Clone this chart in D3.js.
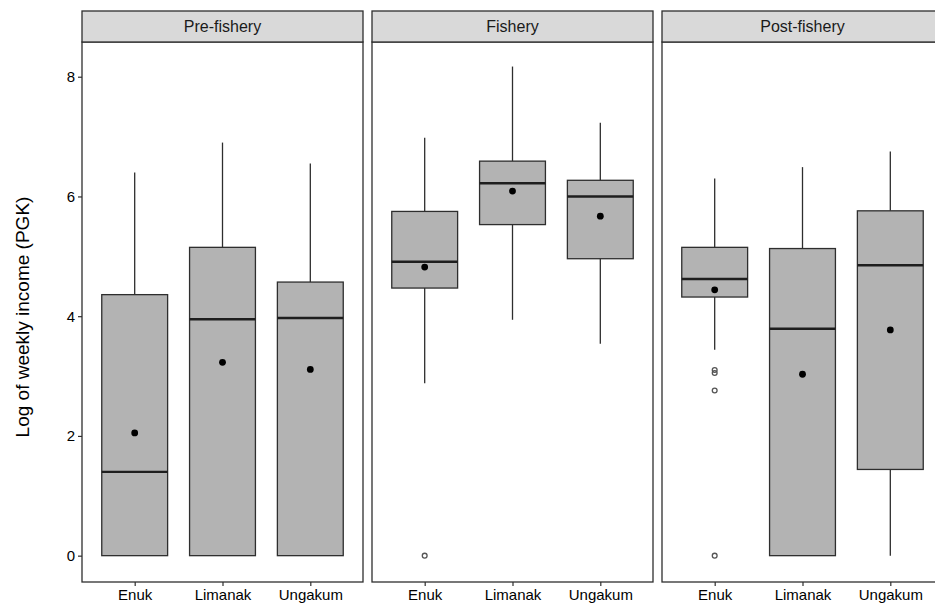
<!DOCTYPE html>
<html>
<head>
<meta charset="utf-8">
<script src="https://cdnjs.cloudflare.com/ajax/libs/d3/7.8.5/d3.min.js"></script>
<style>
  body { margin: 0; background: #fff; }
  svg { display: block; font-family: "Liberation Sans", Arial, sans-serif; }
</style>
</head>
<body>
<svg id="chart" width="935" height="608"></svg>
<script>
// facet panels and villages
const periods = ["Pre-fishery", "Fishery", "Post-fishery"];
const villages = ["Enuk", "Limanak", "Ungakum"];

// box stats, one row per period, one value per village
const whiskerLow = [[0, 0, 0], [2.88, 3.94, 3.54], [3.44, 0, 0]];
const q1 = [[0, 0, 0], [4.47, 5.53, 4.96], [4.32, 0, 1.44]];
const medians = [[1.40, 3.95, 3.97], [4.91, 6.22, 6.00], [4.62, 3.79, 4.85]];
const q3 = [[4.36, 5.15, 4.57], [5.75, 6.59, 6.27], [5.15, 5.13, 5.76]];
const whiskerHigh = [[6.40, 6.90, 6.55], [6.98, 8.17, 7.23], [6.30, 6.49, 6.75]];
const means = [[2.05, 3.23, 3.11], [4.82, 6.09, 5.67], [4.44, 3.03, 3.77]];
const outliers = [[[], [], []], [[0], [], []], [[3.10, 3.05, 2.76, 0], [], []]];

const yTicks = [0, 2, 4, 6, 8];

const svg = d3.select("#chart");
const margin = { top: 42, left: 82, bottom: 26 };
const panelW = 281, gap = 9, stripH = 31;
const height = 608 - margin.top - margin.bottom;

const y = d3.scaleLinear().domain([-0.44, 8.58]).range([height, 0]);
const x = d3.scalePoint().domain(villages).range([0, panelW]).padding(0.6);
const boxW = x.step() * 0.75;
const ink = "#2e2e2e";

// y axis title
svg.append("text")
    .attr("transform", `translate(29,317) rotate(-90)`)
    .attr("text-anchor", "middle")
    .attr("font-size", 19)
    .attr("fill", "#000")
    .text("Log of weekly income (PGK)");

periods.forEach((p, pi) => {
    const px = margin.left + pi * (panelW + gap);
    const g = svg.append("g").attr("transform", `translate(${px},${margin.top})`);

    // strip
    svg.append("rect")
        .attr("x", px).attr("y", margin.top - stripH)
        .attr("width", panelW).attr("height", stripH)
        .attr("fill", "#d9d9d9").attr("stroke", ink).attr("stroke-width", 1.3);
    svg.append("text")
        .attr("x", px + panelW / 2).attr("y", margin.top - stripH / 2)
        .attr("dy", "0.36em")
        .attr("text-anchor", "middle")
        .attr("font-size", 16)
        .attr("fill", "#1a1a1a")
        .text(p);

    const rows = villages.map((v, i) => ({
        v, lo: whiskerLow[pi][i], q1: q1[pi][i], med: medians[pi][i],
        q3: q3[pi][i], hi: whiskerHigh[pi][i], mean: means[pi][i], out: outliers[pi][i]
    }));

    // whiskers
    g.selectAll(".wh-up").data(rows).enter().append("line")
        .attr("x1", d => x(d.v)).attr("x2", d => x(d.v))
        .attr("y1", d => y(d.q3)).attr("y2", d => y(d.hi))
        .attr("stroke", ink).attr("stroke-width", 1.3);
    g.selectAll(".wh-lo").data(rows).enter().append("line")
        .attr("x1", d => x(d.v)).attr("x2", d => x(d.v))
        .attr("y1", d => y(d.q1)).attr("y2", d => y(d.lo))
        .attr("stroke", ink).attr("stroke-width", 1.3);

    // boxes
    g.selectAll(".box").data(rows).enter().append("rect")
        .attr("x", d => x(d.v) - boxW / 2)
        .attr("y", d => y(d.q3))
        .attr("width", boxW)
        .attr("height", d => y(d.q1) - y(d.q3))
        .attr("fill", "#b3b3b3").attr("stroke", ink).attr("stroke-width", 1.3);

    // medians
    g.selectAll(".med").data(rows).enter().append("line")
        .attr("x1", d => x(d.v) - boxW / 2).attr("x2", d => x(d.v) + boxW / 2)
        .attr("y1", d => y(d.med)).attr("y2", d => y(d.med))
        .attr("stroke", "#1e1e1e").attr("stroke-width", 2.4);

    // outliers
    rows.forEach(d => {
        g.selectAll(null).data(d.out).enter().append("circle")
            .attr("cx", x(d.v)).attr("cy", o => y(o))
            .attr("r", 2.4)
            .attr("fill", "none").attr("stroke", "#555").attr("stroke-width", 1.3);
    });

    // means
    g.selectAll(".mean").data(rows).enter().append("circle")
        .attr("cx", d => x(d.v)).attr("cy", d => y(d.mean))
        .attr("r", 3.4).attr("fill", "#000");

    // panel border
    g.append("rect")
        .attr("width", panelW).attr("height", height)
        .attr("fill", "none").attr("stroke", ink).attr("stroke-width", 1.3);

    // x axis
    const xa = g.append("g").attr("transform", `translate(0,${height})`)
        .call(d3.axisBottom(x).tickSize(4).tickPadding(3));
    xa.select(".domain").remove();
    xa.selectAll("line").attr("stroke", ink).attr("stroke-width", 1.2);
    xa.selectAll("text").attr("font-size", 15).attr("fill", "#000")
        .attr("font-family", "Liberation Sans, Arial, sans-serif");

    if (pi === 0) {
        const ya = g.append("g").call(d3.axisLeft(y).tickValues(yTicks).tickSize(4).tickPadding(3));
        ya.select(".domain").remove();
        ya.selectAll("line").attr("stroke", ink).attr("stroke-width", 1.2);
        ya.selectAll("text").attr("font-size", 15).attr("fill", "#000")
            .attr("font-family", "Liberation Sans, Arial, sans-serif");
    }
});
</script>
</body>
</html>
